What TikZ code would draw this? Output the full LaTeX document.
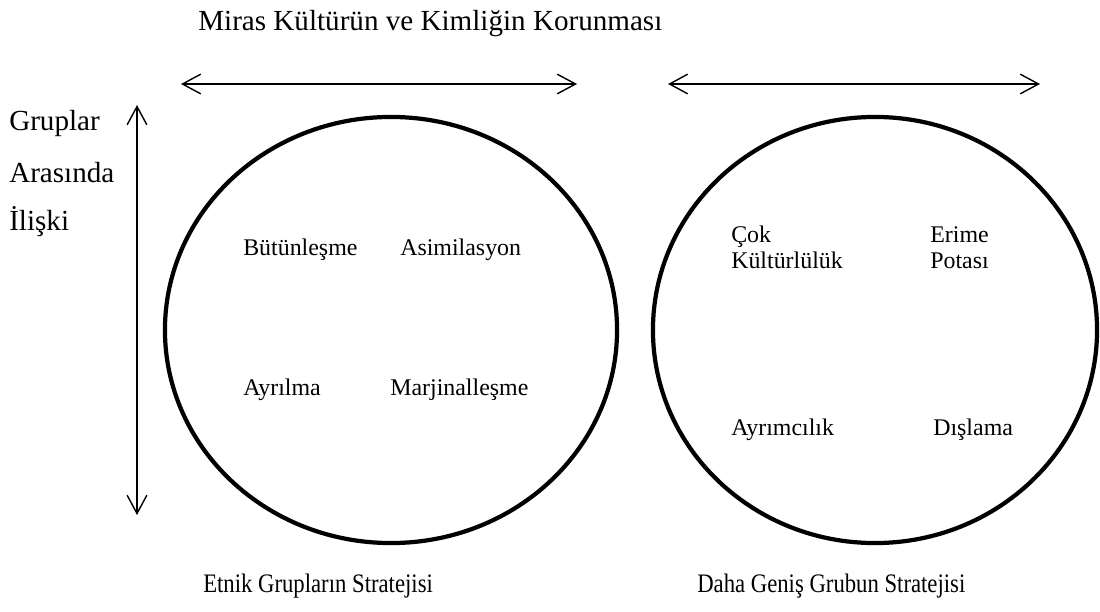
\documentclass[tikz,border=0pt]{standalone}
\usepackage{fontspec}
\setmainfont{Liberation Serif}
\usetikzlibrary{arrows.meta,shapes.geometric}

\tikzset{
	ring/.style={shape=ellipse, draw=black, line width=3pt, inner sep=0pt},
	twoway/.style={{Straight Barb[length=13pt,width=14pt]}-{Straight Barb[length=13pt,width=14pt]}, line width=1pt},
	big/.style={font=\fontsize{20.7}{24}\selectfont, anchor=base west, inner sep=0pt},
	word/.style={font=\fontsize{17}{18.5}\selectfont, anchor=base west, inner sep=0pt},
	foot/.style={font=\fontsize{19}{22}\selectfont, anchor=base west, inner sep=0pt},
}

\begin{document}
\begin{tikzpicture}[x=0.025cm, y=-0.025cm]
	\useasboundingbox (0,0) rectangle (1100,612);

	\node[big] (miras) at (198, 30)     {Miras Kültürün ve Kimliğin Korunması};

	\node[big] (gruplar) at (9, 130)     {Gruplar};
	\node[big] (arasinda) at (9, 182)     {Arasında};
	\node[big] (iliski) at (9, 230)     {İlişki};

	\node[ring, minimum width=11.3cm, minimum height=10.65cm] (etnik) at (391, 330)     {};
	\node[ring, minimum width=11.1cm, minimum height=10.65cm] (genis) at (875, 330)     {};

	\node[word] (butun) at (243, 255)     {Bütünleşme};
	\node[word] (asim) at (400, 255)     {Asimilasyon};
	\node[word] (ayril) at (243, 395)     {Ayrılma};
	\node[word] (marj) at (390, 395)     {Marjinalleşme};

	\node[word, anchor=north west, align=left] (cok) at (731, 226)     {Çok\\Kültürlülük};
	\node[word, anchor=north west, align=center] (erime) at (930, 226)     {Erime\\Potası};
	\node[word] (ayrim) at (731, 435)     {Ayrımcılık};
	\node[word] (disla) at (933, 435)     {Dışlama};

	\node[foot] (etnikStr) at (203, 592)     {\scalebox{0.85}[1]{Etnik Grupların Stratejisi}};
	\node[foot] (genisStr) at (697, 592)     {\scalebox{0.85}[1]{Daha Geniş Grubun Stratejisi}};

	\coordinate (solA) at (181, 84);
	\coordinate (solB) at (577, 84);
	\coordinate (sagA) at (668, 84);
	\coordinate (sagB) at (1040, 84);
	\coordinate (dikA) at (137, 105);
	\coordinate (dikB) at (137, 515);

	\draw[twoway] (solA) -- (solB);
	\draw[twoway] (sagA) -- (sagB);
	\draw[twoway] (dikA) -- (dikB);

\end{tikzpicture}
\end{document}
